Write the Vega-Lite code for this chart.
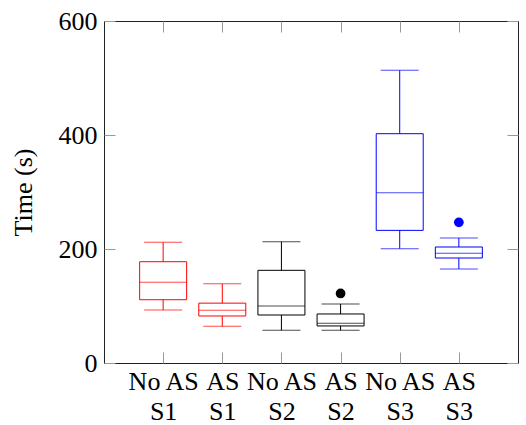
{
  "$schema": "https://vega.github.io/schema/vega-lite/v6.json",
  "width": 414,
  "height": 342,
  "autosize": "none",
  "padding": {"left": 104, "top": 21, "right": 8, "bottom": 62},
  "config": {
    "view": {"stroke": "#222", "strokeWidth": 1},
    "font": "Liberation Serif",
    "axis": {"grid": false, "domain": false, "tickColor": "#999", "tickSize": -11, "labelFont": "Liberation Serif", "titleFont": "Liberation Serif", "labelFontSize": 26, "titleFontSize": 26, "labelColor": "#000", "titleColor": "#000", "titleFontWeight": "normal"}
  },
  "data": {"values": [
    {"label": "No AS S1", "scenario": "S1", "lo": 93, "q1": 111, "median": 141.5, "q3": 177.7, "hi": 211.7, "outlier": null},
    {"label": "AS S1", "scenario": "S1", "lo": 64.3, "q1": 82.5, "median": 92.4, "q3": 105, "hi": 139, "outlier": null},
    {"label": "No AS S2", "scenario": "S2", "lo": 57.3, "q1": 84.2, "median": 100, "q3": 162.6, "hi": 212.8, "outlier": null},
    {"label": "AS S2", "scenario": "S2", "lo": 57.3, "q1": 65, "median": 69.6, "q3": 86, "hi": 103.5, "outlier": 122},
    {"label": "No AS S3", "scenario": "S3", "lo": 200.6, "q1": 232.7, "median": 298.8, "q3": 402.3, "hi": 513.5, "outlier": null},
    {"label": "AS S3", "scenario": "S3", "lo": 164.9, "q1": 184.2, "median": 192.4, "q3": 203.5, "hi": 219.3, "outlier": 246.8}
  ]},
  "layer": [
    {
      "mark": {"type": "rule", "strokeWidth": 1},
      "encoding": {
        "x": {"field": "label", "type": "ordinal", "sort": null, "scale": {"type": "point", "padding": 1},
          "axis": {"orient": "bottom", "title": null, "labelAngle": 0, "labelOverlap": false, "labelPadding": 16, "labelLineHeight": 30, "labelBaseline": "top", "labelFont": "Liberation Serif", "labelFontSize": 26,
            "labelExpr": "[slice(datum.label, 0, lastindexof(datum.label, ' ')), slice(datum.label, lastindexof(datum.label, ' ') + 1)]"}},
        "y": {"field": "lo", "type": "quantitative", "scale": {"domain": [0, 600], "nice": false},
          "axis": {"orient": "left", "values": [0, 200, 400, 600], "format": "d", "title": "Time (s)", "labelPadding": 18, "titlePadding": 22, "labelFont": "Liberation Serif", "labelFontSize": 26}},
        "y2": {"field": "hi"},
        "color": {"field": "scenario", "type": "nominal", "scale": {"domain": ["S1", "S2", "S3"], "range": ["#ff0000", "#000000", "#0000ff"]}, "legend": null}
      }
    },
    {
      "mark": {"type": "bar", "width": 47, "fill": "white", "strokeWidth": 1},
      "encoding": {
        "x": {"field": "label", "type": "ordinal", "sort": null,
          "axis": {"orient": "top", "title": null, "labels": false}},
        "y": {"field": "q1", "type": "quantitative",
          "axis": {"orient": "right", "values": [0, 200, 400, 600], "title": null, "labels": false}},
        "y2": {"field": "q3"},
        "stroke": {"field": "scenario", "type": "nominal", "scale": {"domain": ["S1", "S2", "S3"], "range": ["#ff0000", "#000000", "#0000ff"]}, "legend": null}
      }
    },
    {
      "mark": {"type": "tick", "orient": "horizontal", "size": 47, "thickness": 1},
      "encoding": {
        "x": {"field": "label", "type": "ordinal", "sort": null, "axis": null},
        "y": {"field": "median", "type": "quantitative", "axis": null},
        "color": {"field": "scenario", "type": "nominal", "legend": null}
      }
    },
    {
      "mark": {"type": "tick", "orient": "horizontal", "size": 38, "thickness": 1},
      "encoding": {
        "x": {"field": "label", "type": "ordinal", "sort": null, "axis": null},
        "y": {"field": "lo", "type": "quantitative", "axis": null},
        "color": {"field": "scenario", "type": "nominal", "legend": null}
      }
    },
    {
      "mark": {"type": "tick", "orient": "horizontal", "size": 38, "thickness": 1},
      "encoding": {
        "x": {"field": "label", "type": "ordinal", "sort": null, "axis": null},
        "y": {"field": "hi", "type": "quantitative", "axis": null},
        "color": {"field": "scenario", "type": "nominal", "legend": null}
      }
    },
    {
      "transform": [{"filter": "datum.outlier != null"}],
      "mark": {"type": "point", "filled": true, "opacity": 1, "size": 95},
      "encoding": {
        "x": {"field": "label", "type": "ordinal", "sort": null, "axis": null},
        "y": {"field": "outlier", "type": "quantitative", "axis": null},
        "color": {"field": "scenario", "type": "nominal", "legend": null}
      }
    }
  ]
}
